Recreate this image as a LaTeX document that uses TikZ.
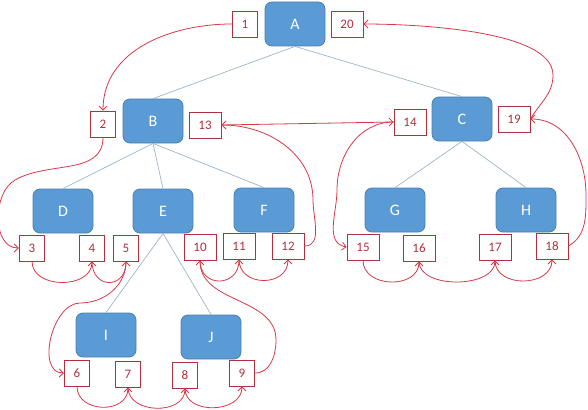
\documentclass[tikz,border=0pt]{standalone}
\usepackage{fontspec}
\setmainfont{Carlito}
\definecolor{TREEblue}{HTML}{5B9BD5}
\definecolor{TREEedge}{HTML}{4A7EB0}
\definecolor{TREEline}{HTML}{9FB4C8}
\definecolor{TREEred}{HTML}{D83848}
\definecolor{TREEbox}{HTML}{B0303F}
\usetikzlibrary{arrows.meta}

\begin{document}
\begin{tikzpicture}[x=1pt, y=1pt,
   tnode/.style={draw=TREEedge, fill=TREEblue, rounded corners=7pt, line width=0.8pt,
      minimum width=60pt, minimum height=44pt, text=white, font=\fontsize{16}{18}\selectfont},
   num/.style={draw=TREEbox, fill=white, line width=0.8pt, minimum width=25pt, minimum height=26pt,
      inner xsep=9.5pt, inner ysep=0pt, text=TREEbox, font=\fontsize{13}{15}\selectfont},
   tree/.style={TREEline, line width=0.7pt},
   walk/.style={TREEred, line width=0.8pt, -{Straight Barb[length=4pt,width=8pt]}},
   hop/.style={out=-90, in=-90, distance=#1}, hop/.default=28pt]
            \useasboundingbox (0,0) rectangle (588,-409);
            % Tree nodes
            \node[tnode] (A) at (295,-24) {A};
            \node[tnode] (B) at (153,-121) {B};
            \node[tnode] (C) at (462,-119) {C};
            \node[tnode] (D) at (63,-211) {D};
            \node[tnode] (E) at (163,-211) {E};
            \node[tnode] (F) at (264,-210) {F};
            \node[tnode] (G) at (395,-210) {G};
            \node[tnode] (H) at (526,-210) {H};
            \node[tnode] (I) at (106,-335) {I};
            \node[tnode] (J) at (211,-337) {J};
            % Tree edges
            \draw[tree] (A.south) -- (B.north);
            \draw[tree] (A.south) -- (C.north);
            \draw[tree] (B.south) -- (D.north);
            \draw[tree] (B.south) -- (E.north);
            \draw[tree] (B.south) -- (F.north);
            \draw[tree] (C.south) -- (G.north);
            \draw[tree] (C.south) -- (H.north);
            \draw[tree] (E.south) -- (I.north);
            \draw[tree] (E.south) -- (J.north);
            % Visit order boxes
            \node[num] (n1) at (245,-24) {1};
            \node[num] (n20) at (347,-24) {20};
            \node[num] (n2) at (103,-124) {2};
            \node[num] (n13) at (205,-125) {13};
            \node[num] (n14) at (410,-122) {14};
            \node[num] (n19) at (514,-119) {19};
            \node[num] (n3) at (32,-248) {3};
            \node[num] (n4) at (92,-248) {4};
            \node[num] (n5) at (126,-248) {5};
            \node[num] (n10) at (200,-247) {10};
            \node[num] (n11) at (239,-246) {11};
            \node[num] (n12) at (288,-246) {12};
            \node[num] (n15) at (363,-247) {15};
            \node[num] (n16) at (419,-248) {16};
            \node[num] (n17) at (495,-247) {17};
            \node[num] (n18) at (552,-246) {18};
            \node[num] (n6) at (77,-373) {6};
            \node[num] (n7) at (128,-374) {7};
            \node[num] (n8) at (185,-375) {8};
            \node[num] (n9) at (242,-373) {9};
            % Bends of the walk
            \coordinate (w2) at (15,-180);
            \coordinate (w5) at (80,-303);
            \coordinate (w9) at (276,-340);
            \coordinate (w12) at (313,-200);
            \coordinate (w14) at (337,-190);
            \coordinate (w18) at (586,-195);
            \coordinate (w19) at (553,-75);
            % Walk round the tree
            \draw[walk] (n1.west) to[out=180, in=90] (n2.north);
            \draw[walk] (n2.south) to[out=-90, in=30] (w2) to[out=210, in=180] (n3.west);
            \draw[walk] (n3.south) to[hop] (n4.south);
            \draw[walk] (n4.south) to[hop] (n5.south);
            \draw[walk] (n5.south) to[out=-90, in=0] (w5) to[out=180, in=180] (n6.west);
            \draw[walk] (n6.south) to[hop=27pt] (n7.south);
            \draw[walk] (n7.south) to[hop=27pt] (n8.south);
            \draw[walk] (n8.south) to[hop=27pt] (n9.south);
            \draw[walk] (n9.east) to[out=0, in=-90] (w9) to[out=90, in=-90] (n10.south);
            \draw[walk] (n10.south) to[hop] (n11.south);
            \draw[walk] (n11.south) to[hop] (n12.south);
            \draw[walk] (n12.east) to[out=0, in=-90] (w12) to[out=90, in=0] (n13.east);
            \draw[walk] (n13.east) -- (n14.west);
            \draw[walk] (n14.west) to[out=180, in=90] (w14) to[out=-90, in=170] (n15.west);
            \draw[walk] (n15.south) to[hop] (n16.south);
            \draw[walk] (n16.south) to[hop] (n17.south);
            \draw[walk] (n17.south) to[hop] (n18.south);
            \draw[walk] (n18.east) to[out=30, in=-90] (w18) to[out=90, in=0] (n19.east);
            \draw[walk] (n19.east) to[out=60, in=-90] (w19) to[out=90, in=0, looseness=0.6] (n20.east);
\end{tikzpicture}
\end{document}
